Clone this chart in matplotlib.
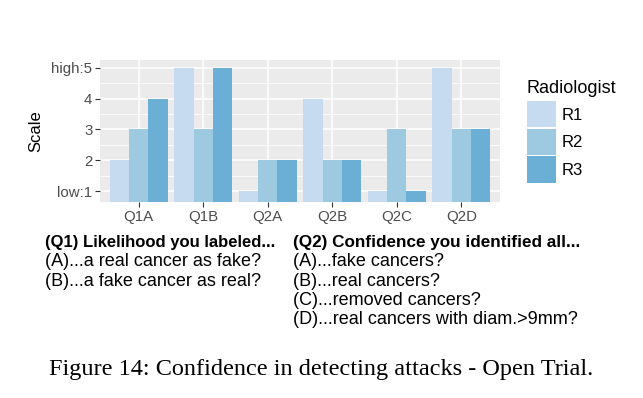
import matplotlib.pyplot as plt
import numpy as np

######################################################################################
questions = ["Q1A", "Q1B", "Q2A", "Q2B", "Q2C", "Q2D"]
radiologists = ["R1", "R2", "R3"]
r1_scores = [2, 5, 1, 4, 1, 5]
r2_scores = [3, 3, 2, 2, 3, 3]
r3_scores = [4, 5, 2, 2, 1, 3]
y_ticks = [1, 2, 3, 4, 5]
y_tick_labels = ["low:1", "2", "3", "4", "high:5"]
bar_colors = ["#c6dbef", "#9ecae1", "#6baed6"]
######################################################################################
plt.rcParams['font.family'] = ['Liberation Sans', 'DejaVu Sans']

fig = plt.figure(figsize=(6.43, 3.98), dpi=100)
ax = fig.add_axes([100/643, 1-202/398, 400/643, 142/398])

ax.set_facecolor("#ebebeb")
y_min, y_max = 0.645, 5.25
x = np.arange(1, len(questions)+1)
w = 0.3
series = [r1_scores, r2_scores, r3_scores]
for i, (vals, col, lab) in enumerate(zip(series, bar_colors, radiologists)):
	heights = np.array(vals) - y_min
	ax.bar(x + (i-1)*w, heights, width=w, bottom=y_min, color=col, label=lab, zorder=3)

ax.set_xlim(0.4, 6.6)
ax.set_ylim(y_min, y_max)
ax.set_xticks(x)
ax.set_xticklabels(questions)
ax.set_yticks(y_ticks)
ax.set_yticklabels(y_tick_labels)
ax.set_yticks([1.5, 2.5, 3.5, 4.5], minor=True)
ax.grid(which="major", color="white", linewidth=1.1, zorder=0)
ax.grid(which="minor", axis="y", color="white", linewidth=0.55, zorder=0)
ax.tick_params(which="minor", length=0)
ax.tick_params(which="major", length=3.5, color="#333333", width=0.8,
	labelsize=10.8, labelcolor="#4d4d4d", pad=2)
for s in ax.spines.values():
	s.set_visible(False)
ax.set_ylabel("Scale", fontsize=12, labelpad=6)

leg = ax.legend(title="Radiologist", loc="upper left", bbox_to_anchor=(527/643, 1-80/398),
	bbox_transform=fig.transFigure,
	frameon=False, fontsize=12, title_fontsize=13, handlelength=1.75, handleheight=2.05,
	labelspacing=0.08, handletextpad=0.35, borderaxespad=0, borderpad=0)
leg._legend_box.align = "left"
leg._legend_box.sep = 3

# description lines under the chart
fig.text(45/643, 1-242/398, "(Q1) Likelihood you labeled...", fontsize=12, weight="bold",
	va="center")
fig.text(45/643, 1-262/398, "(A)...a real cancer as fake?", fontsize=13, va="center")
fig.text(45/643, 1-281/398, "(B)...a fake cancer as real?", fontsize=13, va="center")
q2_lines = ["(A)...fake cancers?", "(B)...real cancers?", "(C)...removed cancers?",
	"(D)...real cancers with diam.>9mm?"]
fig.text(293/643, 1-242/398, "(Q2) Confidence you identified all...", fontsize=12.3, weight="bold",
	va="center")
for k, line in enumerate(q2_lines):
	fig.text(293/643, 1-(262+19.3*k)/398, line, fontsize=13, va="center")

fig.text(321/643, 1-370/398, "Figure 14: Confidence in detecting attacks - Open Trial.",
	fontsize=17.5, ha="center", va="center", family=['Liberation Serif', 'DejaVu Serif'])

plt.savefig("out.png", dpi=100)
